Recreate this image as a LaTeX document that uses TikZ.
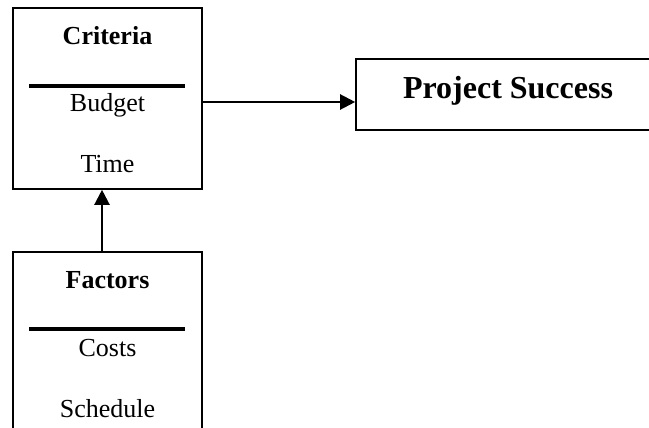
\documentclass[tikz,border=0pt]{standalone}
\usepackage{fontspec}
\setmainfont{Liberation Serif}
\usetikzlibrary{arrows.meta}
\begin{document}
\begin{tikzpicture}[x=1pt,y=-1pt,
  box/.style={draw, line width=1.6pt, rectangle, inner sep=0pt},
  rule/.style={line width=3.5pt},
  label/.style={anchor=base, inner sep=0pt, font=\fontsize{26}{30}\selectfont},
  title/.style={label, font=\fontsize{26}{30}\selectfont\bfseries},
  bigtitle/.style={anchor=base, inner sep=0pt, font=\fontsize{32}{38}\selectfont\bfseries},
  link/.style={line width=2.2pt, -{Triangle[length=15pt,width=15pt]}}]
\clip (0,0) rectangle (649,428);
\fill[white] (0,0) rectangle (649,428);

% Criteria box
\node[box, minimum width=189pt, minimum height=181pt] (crit) at (107.5,98.5) {};
\node[title] (critT) at (107.5,45) {Criteria};
\draw[rule] (29,86) coordinate (cr1) -- (185,86) coordinate (cr2);
\node[label] (budget) at (107.5,112) {Budget};
\node[label] (time) at (107.5,172) {Time};

% Factors box (runs past the lower edge)
\node[box, minimum width=189pt, minimum height=200pt] (fact) at (107.5,352) {};
\node[title] (factT) at (107.5,288) {Factors};
\draw[rule] (29,329) coordinate (fr1) -- (185,329) coordinate (fr2);
\node[label] (costs) at (107.5,356) {Costs};
\node[label] (sched) at (107.5,417) {Schedule};

% Project Success box (runs past the right edge)
\node[box, minimum width=320pt, minimum height=71pt] (ps) at (516,94.5) {};
\node[bigtitle] (psT) at (508,99) {Project Success};

% connectors
\coordinate (c1) at (crit.east |- 0,102);
\draw[link] (c1) -- (c1 -| ps.west);
\coordinate (f1) at (fact.north -| 102,0);
\draw[link] (f1) -- (f1 |- crit.south);
\end{tikzpicture}
\end{document}
